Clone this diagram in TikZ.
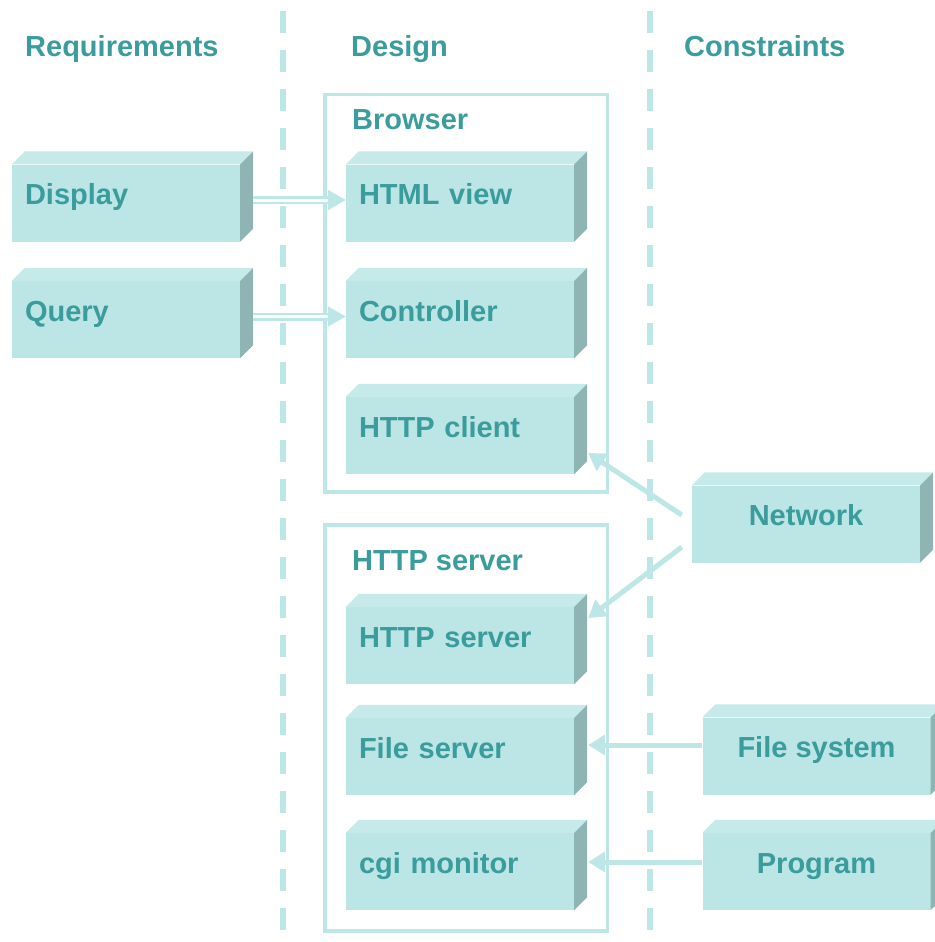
\documentclass[tikz,border=0pt]{standalone}
\usepackage{fontspec}
\setmainfont{Liberation Sans}
\usetikzlibrary{arrows.meta}
\definecolor{boxfill}{HTML}{BCE5E5}
\definecolor{topfill}{HTML}{C6EAEA}
\definecolor{sidefill}{HTML}{8FB4B4}
\definecolor{ink}{HTML}{3A9C9C}
\definecolor{rule}{HTML}{BDE6E6}
\begin{document}
\begin{tikzpicture}[x=1pt,y=-1pt,
  txt/.style={font=\fontsize{29}{33}\selectfont\bfseries, text=ink},
  block/.style={txt, fill=boxfill, minimum width=228pt, minimum height=77pt,
    inner ysep=0pt, text height=20pt, text depth=17pt},
  lblock/.style={block, text width=202pt, inner xsep=13pt, align=left},
  cblock/.style={block, inner xsep=0pt, align=center},
  heading/.style={txt, anchor=base west, inner sep=0pt},
  frame/.style={draw=rule, line width=3.5pt, inner sep=0pt},
  lane/.style={draw=rule, line width=6pt, dash pattern=on 22pt off 17pt},
  arr/.style={draw=rule, line width=5pt, -{Triangle[length=17pt,width=20pt]}},
  dblarr/.style={draw=rule, double=white, line width=2.5pt, double distance=3pt,
    -{Triangle[length=18pt,width=20pt]}}
]
\useasboundingbox (0,0) rectangle (934,942);

% swim-lane separators
\draw[lane] (283,11) -- (283,931);
\draw[lane] (650,11) -- (650,931);

% column headings
\node[heading] (hreq) at (25,57) {Requirements};
\node[heading] (hdes) at (351,57) {Design};
\node[heading] (hcon) at (684,57) {Constraints};

% package frames
\node[frame, minimum width=282.5pt, minimum height=397.5pt] (browser) at (466.25,293.25) {};
\node[heading] (browserlbl) at (352,129) {Browser};
\node[frame, minimum width=282.5pt, minimum height=406pt] (server) at (466.25,728) {};
\node[heading] (serverlbl) at (352,570) {HTTP server};

% requirement blocks
\node[lblock] (display) at (126,203) {Display};
\node[lblock] (query) at (126,319.5) {Query};

% design blocks
\node[lblock] (htmlview) at (460,203) {HTML view};
\node[lblock] (controller) at (460,319.5) {Controller};
\node[lblock] (httpclient) at (460,435.5) {HTTP client};
\node[lblock] (httpserver) at (460,645.5) {HTTP server};
\node[lblock] (fileserver) at (460,756.5) {File server};
\node[lblock] (cgimonitor) at (460,871.5) {cgi monitor};

% constraint blocks
\node[cblock] (network) at (806,524) {Network};
\node[cblock] (filesystem) at (816.5,756) {File system};
\node[cblock] (program) at (816.5,871.5) {Program};

% top and side faces of every block
\foreach \nm in {display,query,htmlview,controller,httpclient,httpserver,
                 fileserver,cgimonitor,network,filesystem,program}{
  \fill[topfill] (\nm.north west) -- ++(13,-13)
    -- ([shift={(13,-13)}]\nm.north east) -- (\nm.north east) -- cycle;
  \fill[sidefill] (\nm.north east) -- ([shift={(13,-13)}]\nm.north east)
    -- ([shift={(13,-13)}]\nm.south east) -- (\nm.south east) -- cycle;
}

% connectors
\draw[dblarr] ([xshift=13pt,yshift=3pt]display.east) -- ([yshift=3pt]htmlview.west);
\draw[dblarr] ([xshift=13pt,yshift=3pt]query.east) -- ([yshift=3pt]controller.west);
\draw[arr] ([xshift=-10pt,yshift=9pt]network.west) -- ([xshift=14pt,yshift=-17.5pt]httpclient.east);
\draw[arr] ([xshift=-10pt,yshift=-23pt]network.west) -- ([xshift=14pt,yshift=27.5pt]httpserver.east);
\draw[arr] ([yshift=11pt]filesystem.west) -- ([xshift=14pt,yshift=11.5pt]fileserver.east);
\draw[arr] ([yshift=9.5pt]program.west) -- ([xshift=14pt,yshift=9.5pt]cgimonitor.east);
\end{tikzpicture}
\end{document}
